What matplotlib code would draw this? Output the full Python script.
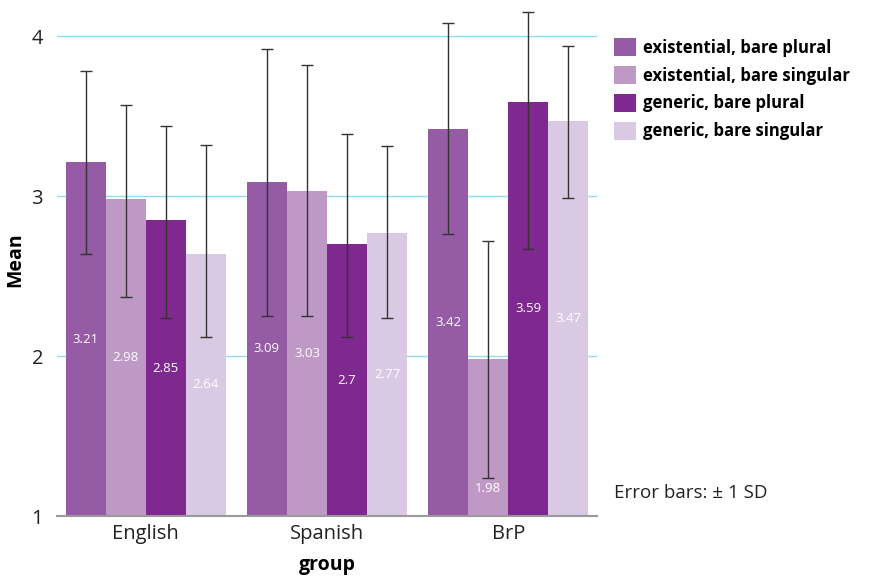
import matplotlib.pyplot as plt
import numpy as np
from matplotlib.patches import Patch

plt.rcParams['font.family'] = ['Open Sans', 'DejaVu Sans']

groups = ["English", "Spanish", "BrP"]
series = ["existential, bare plural", "existential, bare singular",
          "generic, bare plural", "generic, bare singular"]
colors = ["#955ba5", "#bf99c6", "#7f288f", "#dac9e3"]

# means per series, one value per group
means = [
    [3.21, 3.09, 3.42],
    [2.98, 3.03, 1.98],
    [2.85, 2.70, 3.59],
    [2.64, 2.77, 3.47],
]
# error bar ends (mean -/+ 1 SD)
err_low = [
    [2.64, 2.25, 2.76],
    [2.37, 2.25, 1.24],
    [2.24, 2.12, 2.67],
    [2.12, 2.24, 2.99],
]
err_high = [
    [3.78, 3.92, 4.08],
    [3.57, 3.82, 2.72],
    [3.44, 3.39, 4.15],
    [3.32, 3.31, 3.94],
]

fig = plt.figure(figsize=(8.71, 5.78), dpi=100)
ax = fig.add_axes([57 / 871, 1 - 516 / 578, 540 / 871, 512 / 578])

x = np.arange(len(groups))
width = 0.221
for i, name in enumerate(series):
    pos = x + (i - 1.5) * width
    m = np.array(means[i])
    lo = m - np.array(err_low[i])
    hi = np.array(err_high[i]) - m
    ax.bar(pos, m - 1, width=width, bottom=1, color=colors[i], zorder=2)
    ax.errorbar(pos, m, yerr=[lo, hi], fmt="none", ecolor="#333333",
                elinewidth=1, capsize=4.3, capthick=1, zorder=3)
    for xp, v, el in zip(pos, m, err_low[i]):
        # middle of the bar, unless the error bar runs through it
        ly = min(1 + (v - 1) / 2, el - 0.07)
        ax.text(xp, ly, f"{v:g}", color="white", ha="center", va="center",
                fontsize=9.5, zorder=4)

ax.set_xlim(-0.49, 2.49)
ax.set_ylim(1, 4.2)
ax.set_yticks([1, 2, 3, 4])
ax.set_xticks(x)
ax.set_xticklabels(groups, fontsize=14.5)
ax.tick_params(axis="y", length=0, labelsize=14.5, pad=10, colors="#222222")
ax.tick_params(axis="x", length=0, pad=6, colors="#222222")
ax.yaxis.grid(True, color="#8edcf2", lw=1, zorder=0)
ax.set_axisbelow(True)
for s in ["top", "right", "left"]:
    ax.spines[s].set_visible(False)
ax.spines["bottom"].set_color("#999999")
ax.spines["bottom"].set_linewidth(1.5)
ax.spines["bottom"].set_zorder(5)

ax.set_ylabel("Mean", fontsize=14, fontweight="bold", va="center")
ax.yaxis.set_label_coords(-0.078, 0.5)
ax.set_xlabel("group", fontsize=14, fontweight="bold", labelpad=8)

handles = [Patch(facecolor=c, edgecolor="none") for c in colors]
fig.legend(handles, series, loc="upper left", bbox_to_anchor=(599 / 871, 1 - 23 / 578),
           frameon=False, prop={"weight": "bold", "size": 12},
           handlelength=1.3, handleheight=1.3, handletextpad=0.45, labelspacing=0.55)

fig.text(614 / 871, 1 - 493 / 578, "Error bars: \u00b1 1 SD", fontsize=13.5,
         va="center", ha="left", color="#222222")

fig.savefig("out.png", dpi=100)
